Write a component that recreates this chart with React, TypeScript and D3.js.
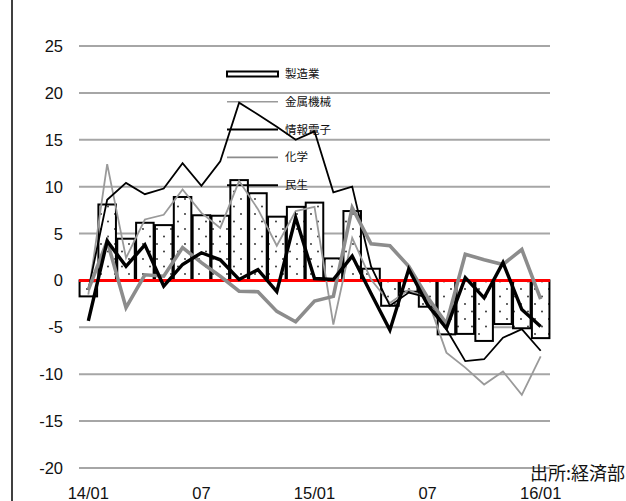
import React from "react";
import * as d3 from "d3";

const categories = [
  "14/01", "14/02", "14/03", "14/04", "14/05", "14/06", "14/07", "14/08", "14/09", "14/10", "14/11", "14/12",
  "15/01", "15/02", "15/03", "15/04", "15/05", "15/06", "15/07", "15/08", "15/09", "15/10", "15/11", "15/12",
  "16/01",
];
const tickLabels: Record<string, string> = { "14/01": "14/01", "14/07": "07", "15/01": "15/01", "15/07": "07", "16/01": "16/01" };
const yTicks = [25, 20, 15, 10, 5, 0, -5, -10, -15, -20];

const manufacturing = [-1.7, 8.1, 4.45, 6.15, 5.9, 8.9, 6.95, 6.9, 10.7, 9.3, 6.8, 7.85, 8.3, 2.35, 7.4, 1.25, -2.7, -1.2, -2.8, -5.75, -5.7, -6.45, -4.65, -5.1, -6.15];
const metalMachinery = [-1.5, 12.4, 2.4, 6.5, 7.0, 9.7, 7.2, 5.6, 10.6, 7.6, 3.7, 7.4, 7.85, -4.7, 4.55, 0.1, -2.4, -1.0, -2.0, -7.7, -9.3, -11.1, -9.7, -12.2, -8.1];
const infoElectronics = [-1.0, 8.6, 10.4, 9.2, 9.8, 12.5, 10.1, 12.7, 18.95, 17.7, 16.4, 15.0, 15.9, 9.4, 10.0, 1.5, -2.7, -1.3, -1.8, -5.2, -8.6, -8.4, -6.1, -5.2, -7.5];
const chemical = [-1.0, 4.2, -2.9, 0.6, 0.45, 3.5, 1.9, 0.45, -1.15, -1.2, -3.3, -4.4, -2.2, -1.7, 7.75, 3.9, 3.7, 1.5, -1.8, -4.6, 2.8, 2.2, 1.7, 3.3, -2.0];
const consumer = [-4.3, 4.2, 1.5, 3.8, -0.6, 1.7, 2.95, 2.2, 0.1, 1.15, -1.2, 6.7, 0.2, 0.1, 2.6, -1.4, -5.3, 1.2, -2.6, -5.1, 0.3, -1.85, 1.9, -3.1, -4.9];

const lineSeries = [
  { name: "金属機械", values: metalMachinery, color: "#9a9a9a", width: 1.8, legendWidth: 1.6 },
  { name: "情報電子", values: infoElectronics, color: "#000000", width: 1.8, legendWidth: 2 },
  { name: "化学", values: chemical, color: "#8c8c8c", width: 3.6, legendWidth: 1.8 },
  { name: "民生", values: consumer, color: "#000000", width: 3.4, legendWidth: 2 },
];

const W = 626;
const H = 501;
const left = 79;
const right = 550;
const numFont = "'Liberation Sans', Arial, sans-serif";
const cjkFont = "'Noto Sans CJK JP', 'Noto Sans CJK SC', sans-serif";

export default function App() {
  const x = d3.scaleBand<string>().domain(categories).range([left, right]).paddingInner(0.07).paddingOuter(0.03);
  const y = d3.scaleLinear().domain([-20, 25]).range([468, 46]);
  const cx = (c: string) => (x(c) as number) + x.bandwidth() / 2;

  const lineGen = d3
    .line<number>()
    .x((_, i) => cx(categories[i]))
    .y((v) => y(v));

  const legendX1 = 227;
  const legendX2 = 278;
  const legendY0 = 74;
  const legendStep = 27.8;

  return (
    <svg width={W} height={H} style={{ position: "absolute", left: 0, top: 0, background: "#fff" }}>
      <defs>
        <pattern id="dots" width={14} height={15} patternUnits="userSpaceOnUse">
          <rect width={14} height={15} fill="#fff" />
          <circle cx={3} cy={4} r={0.9} fill="#222" />
          <circle cx={10} cy={11.5} r={0.9} fill="#222" />
        </pattern>
      </defs>
      <rect x={0} y={0} width={W} height={H} fill="#fff" />
      <line x1={12} x2={12} y1={0} y2={H} stroke="#000" strokeWidth={1.5} />

      {yTicks
        .filter((t) => t !== 0)
        .map((t) => (
          <line key={"g" + t} x1={left} x2={right} y1={y(t)} y2={y(t)} stroke="#a6a6a6" strokeWidth={2} />
        ))}

      {yTicks.map((t) => (
        <text key={"t" + t} x={63} y={y(t) + 6} textAnchor="end" fontFamily={numFont} fontSize={16.5} fill="#111">
          {t}
        </text>
      ))}

      {categories.map((c) =>
        tickLabels[c] ? (
          <text key={"x" + c} x={cx(c)} y={499} textAnchor="middle" fontFamily={numFont} fontSize={16.5} fill="#111">
            {tickLabels[c]}
          </text>
        ) : null
      )}

      {manufacturing.map((v, i) => {
        const c = categories[i];
        const y0 = y(0);
        const yv = y(v);
        return (
          <rect
            key={"b" + i}
            x={x(c)}
            y={Math.min(y0, yv)}
            width={x.bandwidth()}
            height={Math.abs(yv - y0)}
            fill="url(#dots)"
            stroke="#000"
            strokeWidth={2}
          />
        );
      })}

      <line x1={left} x2={right} y1={y(0)} y2={y(0)} stroke="#ff0000" strokeWidth={3} />

      {/* legend */}
      <rect x={legendX1} y={legendY0 - 2.5} width={legendX2 - legendX1} height={5} fill="#fff" stroke="#000" strokeWidth={2} />
      <text x={285} y={legendY0 + 4} fontFamily={cjkFont} fontSize={11.5} fill="#111">
        製造業
      </text>
      {lineSeries.map((s, k) => {
        const ly = legendY0 + legendStep * (k + 1);
        return (
          <g key={"l" + k}>
            <line x1={legendX1} x2={legendX2} y1={ly} y2={ly} stroke={s.color} strokeWidth={s.legendWidth} />
            <text x={285} y={ly + 4} fontFamily={cjkFont} fontSize={11.5} fill="#111">
              {s.name}
            </text>
          </g>
        );
      })}

      {lineSeries.map((s, k) => (
        <path key={"p" + k} d={lineGen(s.values) || ""} fill="none" stroke={s.color} strokeWidth={s.width} strokeLinejoin="miter" />
      ))}

      <text x={625} y={480} textAnchor="end" fontFamily={cjkFont} fontSize={18} fill="#111">
        出所:経済部
      </text>
    </svg>
  );
}
